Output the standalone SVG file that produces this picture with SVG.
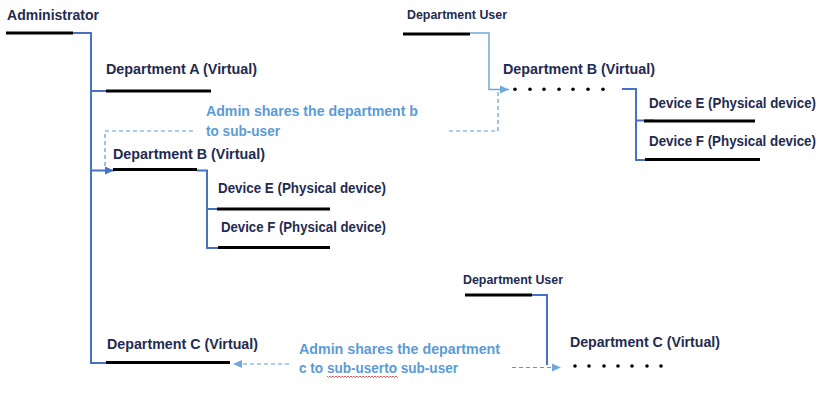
<svg xmlns="http://www.w3.org/2000/svg" width="831" height="407" viewBox="0 0 831 407">
<defs>
<style>
.t{font-family:"Liberation Sans",Arial,sans-serif;font-weight:bold;font-size:14px;fill:#1f2b50}
.s{font-size:12px}
.a{font-family:"Liberation Sans",Arial,sans-serif;font-weight:bold;font-size:14px;fill:#5b9bd5}
.u{stroke:#000;stroke-width:3;fill:none}
.b{stroke:#4472c4;stroke-width:2;fill:none}
.lb{stroke:#6fa8dc;stroke-width:1.5;fill:none}
.d{stroke:#5b9bd5;stroke-width:1.2;fill:none;stroke-dasharray:4 3}
.dot{fill:#000}
</style>
<marker id="ab" markerWidth="10" markerHeight="10" refX="9" refY="5" orient="auto" markerUnits="userSpaceOnUse"><path d="M0,1 L9,5 L0,9 Z" fill="#4472c4"/></marker>
<marker id="al" markerWidth="10" markerHeight="10" refX="9" refY="5" orient="auto" markerUnits="userSpaceOnUse"><path d="M0,1 L9,5 L0,9 Z" fill="#6fa8dc"/></marker>
</defs>
<rect width="831" height="407" fill="#fff"/>

<g id="connectors">
<path class="b" d="M73,33 H91 V363 H106"/>
<path class="b" d="M91,91 H106"/>
<path class="b" d="M91,170.5 H114" marker-end="url(#ab)"/>
<path class="b" d="M197,170.5 H207 V248 H218"/>
<path class="b" d="M207,209 H220"/>
<path class="b" d="M622,89 H636 V160 H646"/>
<path class="b" d="M636,120.5 H654"/>
<path class="b" d="M532,295 H547 V365"/>
<path class="lb" d="M470,33 H489 V89.5 H509" marker-end="url(#al)"/>
<path class="d" d="M449,131 H498 V92"/>
<path class="d" d="M193,131 H105 V167"/>
<path class="d" d="M289,364 H233" marker-end="url(#al)"/>
<path class="d" d="M512,367.5 H561" marker-end="url(#al)"/>
</g>

<g id="administrator">
<text class="t" x="7" y="20" textLength="92" lengthAdjust="spacingAndGlyphs">Administrator</text>
<path class="u" d="M6,33 H73"/>
</g>

<g id="dept-a">
<text class="t" x="106" y="74" textLength="151" lengthAdjust="spacingAndGlyphs">Department A (Virtual)</text>
<path class="u" d="M106,91 H211"/>
</g>

<g id="note-b">
<text class="a" x="206" y="116" textLength="212" lengthAdjust="spacingAndGlyphs">Admin shares the department b</text>
<text class="a" x="206" y="136" textLength="74" lengthAdjust="spacingAndGlyphs">to sub-user</text>
</g>

<g id="dept-b-left">
<text class="t" x="113" y="159" textLength="152" lengthAdjust="spacingAndGlyphs">Department B (Virtual)</text>
<path class="u" d="M113,169.5 H197"/>
</g>

<g id="device-e-left">
<text class="t" x="218" y="193" textLength="168" lengthAdjust="spacingAndGlyphs">Device E (Physical device)</text>
<path class="u" d="M217,209 H330"/>
</g>

<g id="device-f-left">
<text class="t" x="221" y="232" textLength="165" lengthAdjust="spacingAndGlyphs">Device F (Physical device)</text>
<path class="u" d="M218,247.5 H330"/>
</g>

<g id="dept-user-top">
<text class="t s" x="407" y="19" textLength="100" lengthAdjust="spacingAndGlyphs">Department User</text>
<path class="u" d="M403,34 H470"/>
</g>

<g id="dept-b-right">
<text class="t" x="503" y="74" textLength="152" lengthAdjust="spacingAndGlyphs">Department B (Virtual)</text>
<g class="dot">
<circle cx="515" cy="89.3" r="1.8"/><circle cx="530" cy="89.3" r="1.8"/><circle cx="544" cy="89.3" r="1.8"/><circle cx="559" cy="89.3" r="1.8"/><circle cx="573" cy="89.3" r="1.8"/><circle cx="588" cy="89.3" r="1.8"/><circle cx="603" cy="89.3" r="1.8"/>
</g>
</g>

<g id="device-e-right">
<text class="t" x="649" y="108" textLength="167" lengthAdjust="spacingAndGlyphs">Device E (Physical device)</text>
<path class="u" d="M644,121 H755"/>
</g>

<g id="device-f-right">
<text class="t" x="649" y="146" textLength="167" lengthAdjust="spacingAndGlyphs">Device F (Physical device)</text>
<path class="u" d="M645,159.5 H760"/>
</g>

<g id="dept-c-left">
<text class="t" x="107" y="349" textLength="151" lengthAdjust="spacingAndGlyphs">Department C (Virtual)</text>
<path class="u" d="M106,362.5 H230"/>
</g>

<g id="note-c">
<text class="a" x="299" y="354" textLength="201" lengthAdjust="spacingAndGlyphs">Admin shares the department</text>
<text class="a" x="299" y="373" textLength="159" lengthAdjust="spacingAndGlyphs">c to sub-userto sub-user</text>
<path d="M327,376 l1.5,1.5 l1.5,-1.5 l1.5,1.5 l1.5,-1.5 l1.5,1.5 l1.5,-1.5 l1.5,1.5 l1.5,-1.5 l1.5,1.5 l1.5,-1.5 l1.5,1.5 l1.5,-1.5 l1.5,1.5 l1.5,-1.5 l1.5,1.5 l1.5,-1.5 l1.5,1.5 l1.5,-1.5 l1.5,1.5 l1.5,-1.5 l1.5,1.5 l1.5,-1.5 l1.5,1.5 l1.5,-1.5 l1.5,1.5 l1.5,-1.5 l1.5,1.5 l1.5,-1.5 l1.5,1.5 l1.5,-1.5 l1.5,1.5 l1.5,-1.5 l1.5,1.5 l1.5,-1.5 l1.5,1.5 l1.5,-1.5 l1.5,1.5 l1.5,-1.5 l1.5,1.5 l1.5,-1.5 l1.5,1.5 l1.5,-1.5 l1.5,1.5 l1.5,-1.5 l1.5,1.5 l1.5,-1.5 l1.5,1.5" stroke="#e03030" stroke-width="0.8" fill="none"/>
</g>

<g id="dept-user-bottom">
<text class="t s" x="463" y="284" textLength="100" lengthAdjust="spacingAndGlyphs">Department User</text>
<path class="u" d="M465,295 H532"/>
</g>

<g id="dept-c-right">
<text class="t" x="570" y="347" textLength="150" lengthAdjust="spacingAndGlyphs">Department C (Virtual)</text>
<g class="dot">
<circle cx="575" cy="366" r="1.8"/><circle cx="589" cy="366" r="1.8"/><circle cx="604" cy="366" r="1.8"/><circle cx="618" cy="366" r="1.8"/><circle cx="632" cy="366" r="1.8"/><circle cx="647" cy="366" r="1.8"/><circle cx="661" cy="366" r="1.8"/>
</g>
</g>
</svg>
